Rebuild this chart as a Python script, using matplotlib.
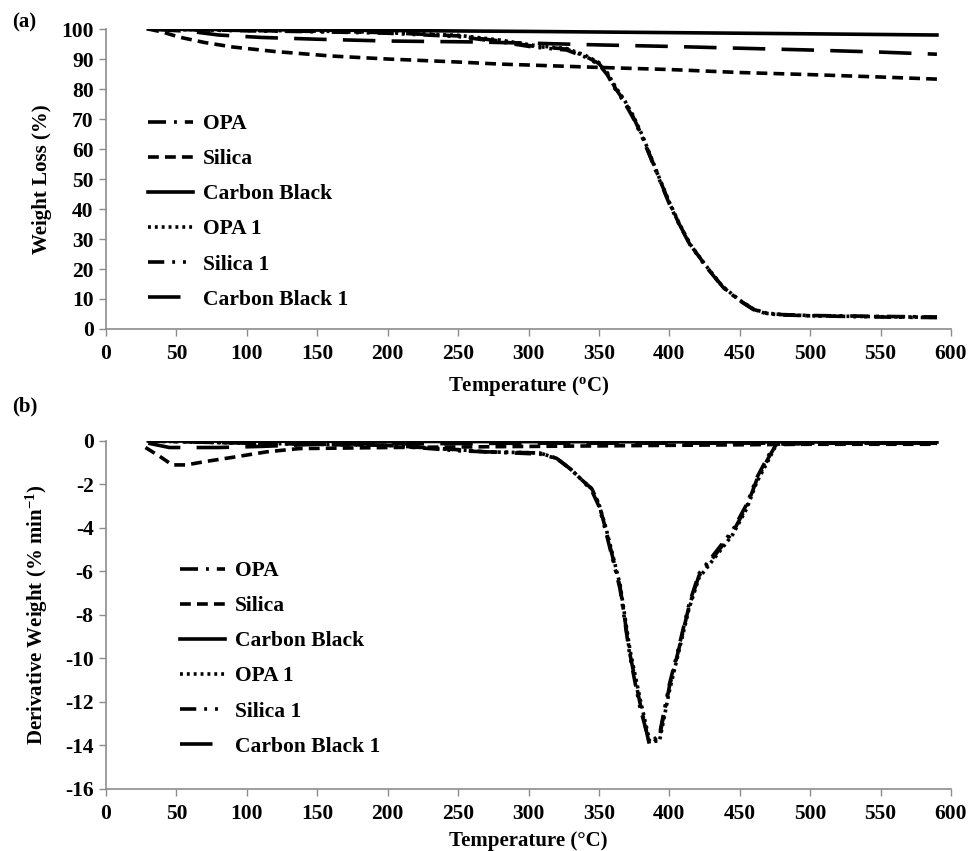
import matplotlib
matplotlib.use("Agg")
import matplotlib.pyplot as plt

# ---- data ----
labels = ["OPA", "Silica", "Carbon Black", "OPA 1", "Silica 1", "Carbon Black 1"]

# (a) TGA, weight (%)
t_opa = [30, 100, 150, 200, 250, 280, 303, 327, 340, 350, 356, 362, 368, 374, 381, 387,
         393, 400, 407, 415, 426, 438, 450, 460, 469, 480, 500, 550, 590]
w_opa = [100, 99.5, 99.2, 98.8, 97.7, 96.0, 94.3, 93.3, 91.0, 88.5, 85.0, 80.0, 76.0, 71.0,
         64.0, 57.0, 50.0, 42.0, 35.0, 28.0, 21.0, 14.0, 9.5, 6.5, 5.2, 4.8, 4.5, 4.2, 4.0]
w_opa1 = [100, 99.6, 99.3, 98.9, 97.9, 96.3, 94.6, 93.5, 91.3, 88.8, 85.4, 80.5, 76.4, 71.4,
          64.4, 57.3, 50.2, 42.3, 35.2, 28.1, 21.1, 14.1, 9.6, 6.6, 5.3, 4.8, 4.4, 4.1, 3.9]
w_sil1 = [100, 99.4, 99.1, 98.6, 97.5, 95.7, 94.0, 93.0, 90.7, 88.2, 84.7, 79.6, 75.6, 70.6,
          63.6, 56.7, 49.7, 41.7, 34.8, 27.8, 20.8, 13.9, 9.4, 6.4, 5.1, 4.7, 4.4, 4.0, 3.8]

t_sil = [30, 40, 52, 70, 90, 120, 160, 200, 250, 280, 300, 350, 400, 450, 500, 550, 590]
w_sil = [100, 99.0, 97.3, 95.5, 94.0, 92.5, 91.0, 90.0, 89.0, 88.3, 88.0, 87.2, 86.5, 85.5,
         84.8, 84.0, 83.3]

t_cb = [30, 100, 200, 300, 400, 500, 590]
w_cb = [100, 99.8, 99.5, 99.2, 98.8, 98.4, 98.0]

t_cb1 = [30, 60, 80, 110, 150, 200, 260, 300, 350, 400, 450, 500, 550, 590]
w_cb1 = [100, 99.2, 98.0, 97.2, 96.6, 96.0, 95.7, 95.3, 94.7, 94.2, 93.6, 93.0, 92.3, 91.6]

# (b) DTG, derivative weight (% min-1)
d_t_opa = [30, 100, 200, 250, 270, 308, 320, 330, 338, 345, 350, 355, 360, 365, 372, 379,
           386, 393, 400, 407, 414, 421, 433, 445, 455, 462, 471, 476, 500, 590]
d_opa = [0, -0.1, -0.2, -0.4, -0.5, -0.55, -0.8, -1.3, -1.8, -2.2, -2.9, -4.1, -5.4, -6.7,
         -9.8, -12.0, -14.0, -13.6, -11.3, -9.5, -7.6, -6.2, -5.2, -4.2, -3.0, -1.8, -0.7,
         -0.15, -0.1, -0.1]
d_opa1 = [0, -0.1, -0.2, -0.4, -0.5, -0.55, -0.8, -1.3, -1.8, -2.2, -2.9, -4.0, -5.3, -6.6,
          -9.6, -11.8, -13.8, -13.8, -11.5, -9.6, -7.7, -6.3, -5.3, -4.3, -3.1, -1.9, -0.8,
          -0.15, -0.1, -0.1]
d_sil1 = [0, -0.1, -0.2, -0.45, -0.5, -0.6, -0.8, -1.3, -1.8, -2.3, -3.0, -4.2, -5.5, -6.8,
          -9.9, -12.2, -13.9, -13.5, -11.2, -9.4, -7.5, -6.1, -5.1, -4.1, -2.9, -1.7, -0.6,
          -0.15, -0.1, -0.1]

d_t_sil = [28, 38, 47, 57, 70, 90, 114, 137, 200, 300, 400, 500, 590]
d_sil = [-0.3, -0.7, -1.1, -1.1, -0.95, -0.75, -0.5, -0.35, -0.3, -0.25, -0.2, -0.15, -0.15]

d_t_cb = [30, 300, 590]
d_cb = [0, -0.03, -0.05]

d_t_cb1 = [30, 45, 80, 110, 150, 300, 590]
d_cb1 = [-0.1, -0.3, -0.3, -0.25, -0.15, -0.1, -0.1]

# ---- styles ----
plt.rcParams['font.family'] = ['Liberation Serif', 'DejaVu Serif']
plt.rcParams['font.weight'] = 'bold'
plt.rcParams['mathtext.fontset'] = 'custom'
plt.rcParams['mathtext.rm'] = 'Liberation Serif:bold'
plt.rcParams['mathtext.it'] = 'Liberation Serif:bold'
plt.rcParams['mathtext.bf'] = 'Liberation Serif:bold'
plt.rcParams['axes.unicode_minus'] = False

tick_size = 15.5
label_size = 15
legend_size = 15.5
lw = 2.6
axis_color = '#8c8c8c'
styles = [
    (0, (5, 2.2, 0.8, 2.2)),           # OPA
    (0, (3, 1.7)),                     # Silica
    '-',                               # Carbon Black
    (0, (0.8, 1.1)),                   # OPA 1
    (0, (4.5, 2.2, 0.8, 2.2, 0.8, 2.2)),  # Silica 1
    (0, (9, 4.5)),                     # Carbon Black 1
]

fig = plt.figure(figsize=(9.71, 8.51), dpi=100)
ax1 = fig.add_axes([0.1092, 0.6134, 0.8702, 0.3525])
ax2 = fig.add_axes([0.1092, 0.0729, 0.8702, 0.4089])

top_series = [(t_opa, w_opa), (t_sil, w_sil), (t_cb, w_cb),
              (t_opa, w_opa1), (t_opa, w_sil1), (t_cb1, w_cb1)]
bot_series = [(d_t_opa, d_opa), (d_t_sil, d_sil), (d_t_cb, d_cb),
              (d_t_opa, d_opa1), (d_t_opa, d_sil1), (d_t_cb1, d_cb1)]


def style_axes(ax):
    for s in ['top', 'right']:
        ax.spines[s].set_visible(False)
    for s in ['left', 'bottom']:
        ax.spines[s].set_color(axis_color)
        ax.spines[s].set_linewidth(1.2)
    ax.tick_params(axis='both', direction='out', length=5, width=1, color=axis_color,
                   labelsize=tick_size, pad=4)
    ax.tick_params(axis='x', pad=6)
    for lab in ax.get_xticklabels() + ax.get_yticklabels():
        lab.set_fontweight('bold')
    ax.set_xlim(0, 600)
    ax.set_xticks(range(0, 601, 50))


for ax, series in [(ax1, top_series), (ax2, bot_series)]:
    for (x, y), ls, lab in zip(series, styles, labels):
        ax.plot(x, y, linestyle=ls, color='black', linewidth=lw, label=lab)

ax1.set_ylim(0, 100)
ax1.set_yticks(range(0, 101, 10))
style_axes(ax1)
ax1.set_xlabel(r'Temperature ($^{o}$C)', fontsize=label_size, fontweight='bold', labelpad=7)
ax1.set_ylabel('Weight Loss (%)', fontsize=label_size, fontweight='bold')
ax1.yaxis.set_label_coords(-0.064, 0.5)

ax2.set_ylim(-16, 0)
ax2.set_yticks(range(-16, 1, 2))
style_axes(ax2)
ax2.set_xlabel('Temperature (°C)', fontsize=label_size, fontweight='bold', labelpad=5)
ax2.set_ylabel(r'Derivative Weight (% min$^{-1}$)', fontsize=label_size, fontweight='bold')
ax2.yaxis.set_label_coords(-0.066, 0.5)

leg_kw = dict(frameon=False, prop={'weight': 'bold', 'size': legend_size},
              handlelength=2.1, handletextpad=0.45, labelspacing=0.7,
              borderpad=0, borderaxespad=0, loc='upper left',
              bbox_transform=fig.transFigure)
ax1.legend(bbox_to_anchor=(148 / 971, 1 - 114 / 851), **leg_kw)
ax2.legend(bbox_to_anchor=(180 / 971, 1 - 561 / 851), **leg_kw)

fig.text(12 / 971, 1 - 22 / 851, '(a)', fontsize=label_size, fontweight='bold', va='center')
fig.text(12 / 971, 1 - 406 / 851, '(b)', fontsize=label_size, fontweight='bold', va='center')

plt.savefig('out.png', dpi=100)
